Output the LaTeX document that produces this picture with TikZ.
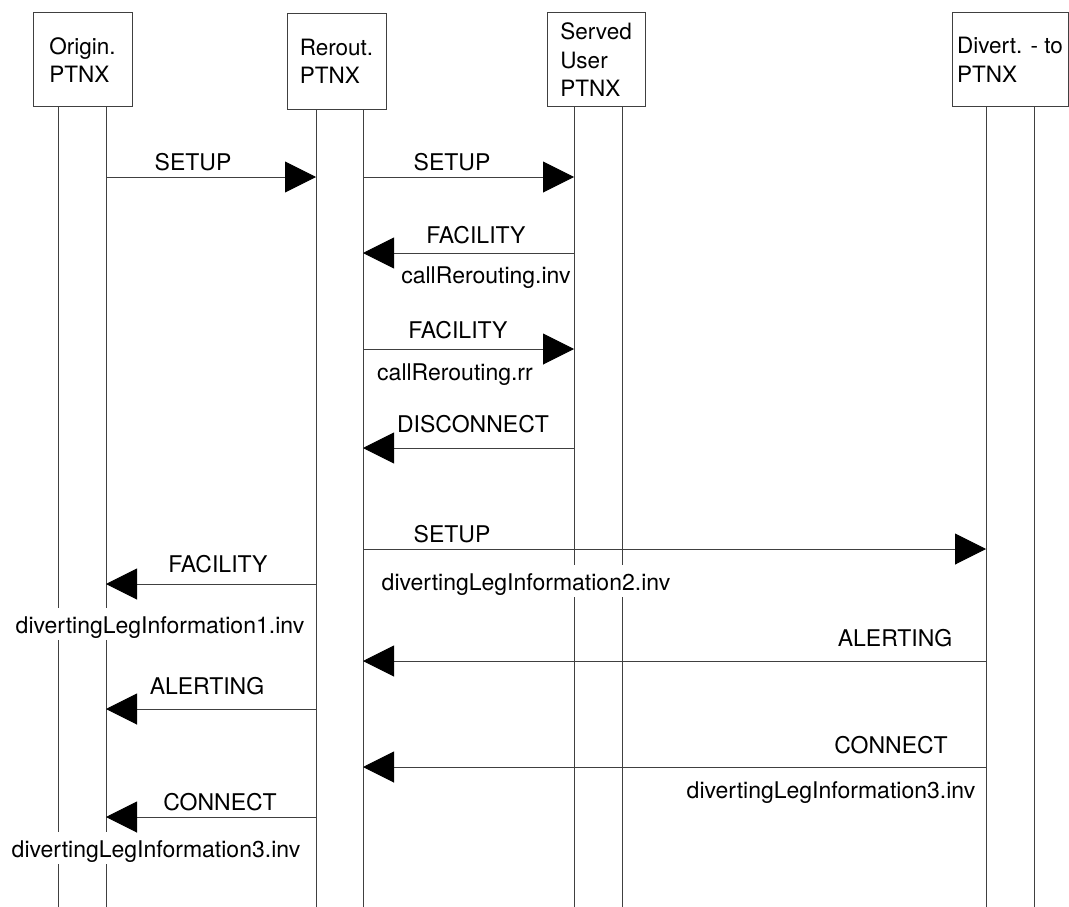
\documentclass[tikz,border=0pt]{standalone}
\usepackage{fontspec}
\setmainfont{TeX Gyre Heros}
\usetikzlibrary{arrows.meta}
\newcommand\lblstrut{\rule[-7pt]{0pt}{32pt}}
\begin{document}
\begin{tikzpicture}[x=1pt,y=-1pt,
  lbl/.style={font=\fontsize{23}{28}\selectfont, inner sep=0pt, fill=white, anchor=base},
  hdr/.style={draw=black!75, line width=1pt, minimum height=94pt, inner sep=0pt,
              align=left, font=\fontsize{22.5}{28.5}\selectfont},
  life/.style={draw=black!75, line width=1pt},
  msg/.style={draw=black!75, line width=1pt, -{Triangle[length=31pt,width=31pt,black]}}]
\useasboundingbox (0,0) rectangle (1069,907);
% header boxes
\node[hdr, minimum width=99pt] (org) at (82.5,60) {Origin.\\PTNX};
\node[hdr, minimum width=99pt, minimum height=95pt] (rer) at (336.5,61.5) {Rerout.\\PTNX};
\node[hdr, minimum width=98pt] (srv) at (596,60) {Served\\User\\PTNX};
\node[hdr, minimum width=116pt] (div) at (1010,60) {Divert. - to\\PTNX};
% lifeline bottoms
\coordinate (oL) at (58,907);
\coordinate (oR) at (106,907);
\coordinate (rL) at (316,907);
\coordinate (rR) at (363,907);
\coordinate (sL) at (574,907);
\coordinate (sR) at (622,907);
\coordinate (dL) at (986,907);
\coordinate (dR) at (1034,907);
\foreach \c/\n in {oL/org,oR/org,rL/rer,rR/rer,sL/srv,sR/srv,dL/div,dR/div}
  \draw[life] (\n.south -| \c) -- (\c);
% labels
\node[lbl] (t1) at (193,170) {\lblstrut SETUP};
\node[lbl] (t2) at (452,170) {\lblstrut SETUP};
\node[lbl] (t3) at (476,243) {\lblstrut FACILITY};
\node[lbl] (t3b) at (486,283) {\lblstrut callRerouting.inv};
\node[lbl] (t4) at (458,338) {\lblstrut FACILITY};
\node[lbl] (t4b) at (455,380) {\lblstrut callRerouting.rr};
\node[lbl] (t5) at (473,432) {\lblstrut DISCONNECT};
\node[lbl] (t6) at (452,542) {\lblstrut SETUP};
\node[lbl] (t6b) at (526,590) {\lblstrut divertingLegInformation2.inv};
\node[lbl] (t7) at (218,572) {\lblstrut FACILITY};
\node[lbl] (t7b) at (160,633) {\lblstrut divertingLegInformation1.inv};
\node[lbl] (t8) at (895,646) {\lblstrut ALERTING};
\node[lbl] (t9) at (207,694) {\lblstrut ALERTING};
\node[lbl] (t10) at (891,753) {\lblstrut CONNECT};
\node[lbl] (t10b) at (831,798) {\lblstrut divertingLegInformation3.inv};
\node[lbl] (t11) at (220,810) {\lblstrut CONNECT};
\node[lbl] (t11b) at (156,857) {\lblstrut divertingLegInformation3.inv};
% messages
\draw[msg] (oR |- 0,177) -- (rL |- 0,177);
\draw[msg] (rR |- 0,177) -- (sL |- 0,177);
\draw[msg] (sL |- 0,253) -- (rR |- 0,253);
\draw[msg] (rR |- 0,349) -- (sL |- 0,349);
\draw[msg] (sL |- 0,448) -- (rR |- 0,448);
\draw[msg] (rR |- 0,549) -- (dL |- 0,549);
\draw[msg] (rL |- 0,584) -- (oR |- 0,584);
\draw[msg] (dL |- 0,661) -- (rR |- 0,661);
\draw[msg] (rL |- 0,709) -- (oR |- 0,709);
\draw[msg] (dL |- 0,767) -- (rR |- 0,767);
\draw[msg] (rL |- 0,817) -- (oR |- 0,817);
\end{tikzpicture}
\end{document}
